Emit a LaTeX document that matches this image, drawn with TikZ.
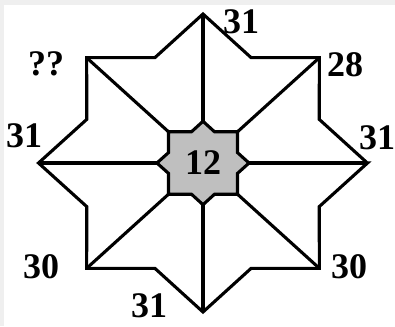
\documentclass[tikz,border=0pt]{standalone}
\usepackage{fontspec}
\setmainfont{Liberation Serif}
\definecolor{cFrame}{HTML}{EFEFEF}
\definecolor{cCore}{HTML}{BFBFBF}
\tikzset{
  starline/.style={draw=black, line width=3.1pt, line join=miter},
  corestar/.style={starline, fill=cCore},
  numlabel/.style={font=\fontsize{36}{40}\selectfont\bfseries, inner sep=0pt},
}

\begin{document}
\begin{tikzpicture}[x=1pt, y=1pt]

  % Frame
  \fill[cFrame] (0,0) rectangle (395,326);
  \fill[white] (4,0) rectangle (395,321);
  \useasboundingbox (0,0) rectangle (395,326);

  \begin{scope}[shift={(203,163)}, xscale=164.5, yscale=149]
    % Points of the star
    \foreach \k in {0,...,7} {
      \coordinate (tip\k) at (\k*45:1);
    }
    \foreach \k in {0,2,4,6} {
      \coordinate (in\k) at (\k*45:0.28);
    }
    \foreach \k in {1,3,5,7} {
      \coordinate (in\k) at (\k*45:0.297);
    }

    % Outer star
    \draw[starline] (tip0)
      \foreach \a in {0,45,...,315} { -- (\a+22.5:0.765) -- (\a+45:1) } -- cycle;

    % Spokes
    \foreach \k in {0,...,7} {
      \draw[starline] (tip\k) -- (in\k);
    }

    % Centre star
    \filldraw[corestar] (in0)
      \foreach \a in {0,90,180,270} {
        -- (\a+18.4:0.221) -- (\a+45:0.297) -- (\a+71.6:0.221) -- (\a+90:0.28)
      } -- cycle;
  \end{scope}

  % Numbers
  \node[numlabel] (mid)    at (203,163) {12};
  \node[numlabel] (ntop)   at (241,304) {31};
  \node[numlabel] (nne)    at (345,261) {28};
  \node[numlabel] (nright) at (377,188) {31};
  \node[numlabel] (nse)    at (349,59)  {30};
  \node[numlabel] (nbot)   at (149,20)  {31};
  \node[numlabel] (nsw)    at (41,59)   {30};
  \node[numlabel] (nleft)  at (24,190)  {31};
  \node[numlabel] (nnw)    at (46,262)  {??};

\end{tikzpicture}
\end{document}
